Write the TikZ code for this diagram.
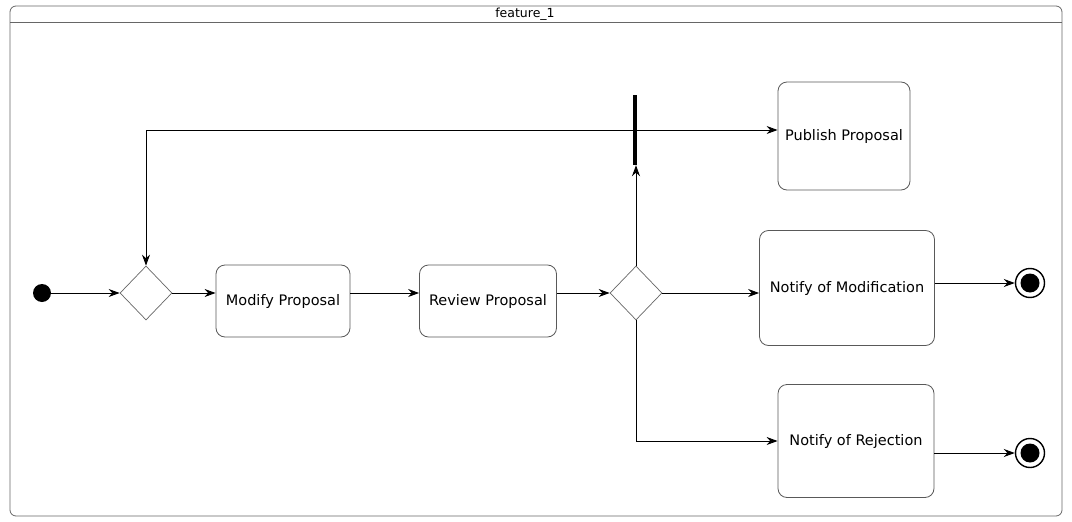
\documentclass[tikz,border=0pt]{standalone}
\usepackage{fontspec}
\setmainfont{DejaVu Sans}
\usetikzlibrary{shapes.geometric,arrows.meta}
\begin{document}
\begin{tikzpicture}[x=1pt,y=-1pt,
  act/.style={draw=black!65, line width=0.8pt, rounded corners=9pt, align=center, font=\fontsize{14.5}{16}\selectfont, inner sep=2pt},
  decision/.style={diamond, draw=black!60, line width=0.7pt, minimum width=52pt, minimum height=54pt, inner sep=0pt},
  initstate/.style={circle, fill=black, minimum size=18pt, inner sep=0pt},
  finalstate/.style={circle, draw=black, line width=1.4pt, minimum size=29pt, inner sep=0pt,
     path picture={\fill[black] (path picture bounding box.center) circle (9.5pt);}},
  forkbar/.style={rectangle, fill=black, minimum width=4.5pt, minimum height=70pt, inner sep=0pt},
  flow/.style={draw=black, line width=1pt, -{Stealth[length=11pt,width=8pt]}}
]
\useasboundingbox (0,0) rectangle (1072,522);
% frame
\draw[black!60, line width=0.8pt, rounded corners=6pt] (10,6) rectangle (1062,516);
\draw[black!60, line width=0.8pt] (10,22) -- (1062,22);
\node[font=\fontsize{12.5}{14}\selectfont, inner sep=0pt] (title) at (525,14) {feature\_1};

% nodes
\node[initstate] (init) at (42,293) {};
\node[decision] (dec1) at (146,293) {};
\node[act, minimum width=134pt, minimum height=72pt] (modify) at (283,301) {Modify Proposal};
\node[act, minimum width=137pt, minimum height=72pt] (review) at (488,301) {Review Proposal};
\node[decision] (dec2) at (636,293) {};
\node[forkbar] (fork) at (635,130) {};
\node[act, minimum width=132pt, minimum height=108pt] (publish) at (844,136) {Publish Proposal};
\node[act, minimum width=175pt, minimum height=115pt] (notifymod) at (847,288) {Notify of Modification};
\node[act, minimum width=156pt, minimum height=113pt] (notifyrej) at (856,441) {Notify of Rejection};
\node[finalstate] (final1) at (1030,283) {};
\node[finalstate] (final2) at (1030,453) {};

% connectors
\draw[flow] (init) -- (dec1.west);
\draw[flow] (dec1.east) -- (dec1.east -| modify.west);
\draw[flow] ([yshift=8pt]modify.east) -- ([yshift=8pt]review.west);
\draw[flow] ([yshift=8pt]review.east) -- (dec2.west);
\draw[flow] (dec2.east) -- (dec2.east -| notifymod.west);
\draw[flow] (dec2.north) -- (dec2.north |- fork.south);
\draw[flow] (fork.west) -| (dec1.north);
\draw[flow] (fork.east) -- (fork.east -| publish.west);
\draw[flow] (dec2.south) |- (notifyrej.west);
\draw[flow] (final1 -| notifymod.east) -- (final1.west);
\draw[flow] (final2 -| notifyrej.east) -- (final2.west);
\end{tikzpicture}
\end{document}
